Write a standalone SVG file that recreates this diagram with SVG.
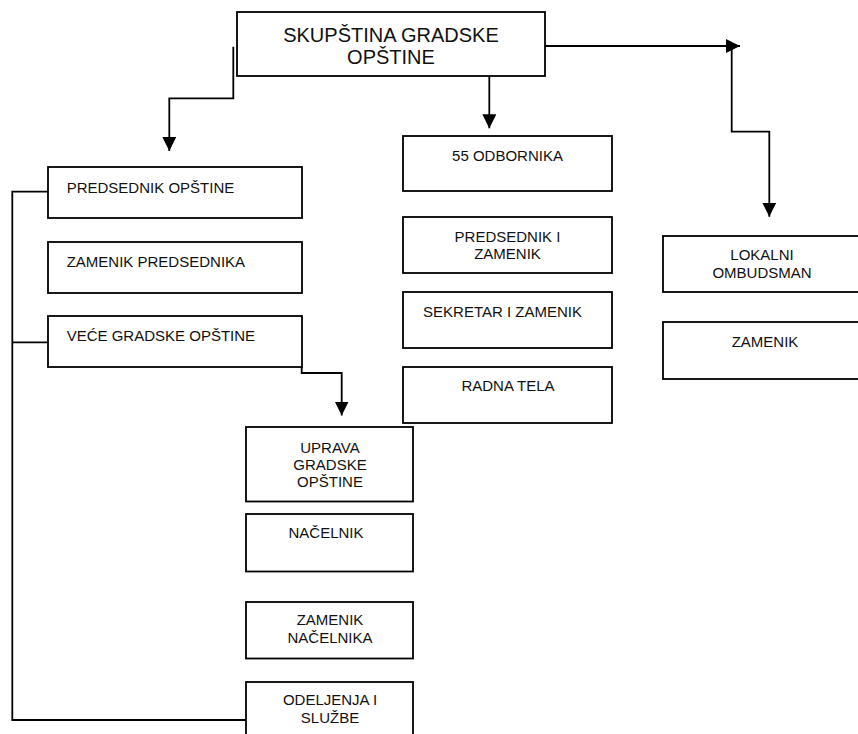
<svg xmlns="http://www.w3.org/2000/svg" width="858" height="734" viewBox="0 0 858 734">
<style>
.box{fill:#fff;stroke:#000;stroke-width:1.8}
.t{font-family:"Liberation Sans",Arial,sans-serif;font-size:15px;fill:#111}
.c{text-anchor:middle}
.big{font-size:20px}
.ln{fill:none;stroke:#000;stroke-width:1.8}
</style>
<defs>
<marker id="ah" markerUnits="userSpaceOnUse" markerWidth="14" markerHeight="14" refX="14" refY="7" orient="auto">
<path d="M0,0 L14,7 L0,14 z" fill="#000"/>
</marker>
</defs>
<rect width="858" height="734" fill="#fff"/>
<g id="connectors">
<path class="ln" d="M233.3,46.7 V98.3 H169.3 V151" marker-end="url(#ah)"/>
<path class="ln" d="M489.3,76 V128.3" marker-end="url(#ah)"/>
<path class="ln" d="M545,46 H740" marker-end="url(#ah)"/>
<path class="ln" d="M731.7,46 V131.7 H769.3 V216.7" marker-end="url(#ah)"/>
<path class="ln" d="M301.7,366.7 V373 H341.7 V415.5" marker-end="url(#ah)"/>
<path class="ln" d="M48,191.7 H12.3 V720 H246 M12.3,342.3 H48"/>
</g>
<g id="skupstina">
<rect class="box" x="237" y="12" width="308" height="64"/>
<text class="t c big" x="391" y="41.7">SKUPŠTINA GRADSKE</text>
<text class="t c big" x="391" y="63.5">OPŠTINE</text>
</g>
<g id="predsednik">
<rect class="box" x="48" y="167" width="254" height="51"/>
<text class="t" x="66.7" y="192.7">PREDSEDNIK OPŠTINE</text>
</g>
<g id="zamenik-predsednika">
<rect class="box" x="48" y="242" width="254" height="51"/>
<text class="t" x="66.7" y="267.3">ZAMENIK PREDSEDNIKA</text>
</g>
<g id="vece">
<rect class="box" x="48" y="316" width="254" height="51"/>
<text class="t" x="66.7" y="340.7">VEĆE GRADSKE OPŠTINE</text>
</g>
<g id="odbornika">
<rect class="box" x="403" y="136" width="209" height="55"/>
<text class="t c" x="507.5" y="160.7">55 ODBORNIKA</text>
</g>
<g id="predsednik-zamenik">
<rect class="box" x="403" y="217" width="209" height="56"/>
<text class="t c" x="507.5" y="241.7">PREDSEDNIK I</text>
<text class="t c" x="507.5" y="259.3">ZAMENIK</text>
</g>
<g id="sekretar">
<rect class="box" x="403" y="292" width="209" height="56"/>
<text class="t c" x="502.5" y="316.7">SEKRETAR I ZAMENIK</text>
</g>
<g id="radna-tela">
<rect class="box" x="403" y="367" width="209" height="56"/>
<text class="t c" x="508" y="391">RADNA TELA</text>
</g>
<g id="ombudsman">
<rect class="box" x="663" y="236" width="205" height="56"/>
<text class="t c" x="762" y="260">LOKALNI</text>
<text class="t c" x="762" y="278.3">OMBUDSMAN</text>
</g>
<g id="zamenik-ombudsmana">
<rect class="box" x="663" y="322" width="205" height="57"/>
<text class="t c" x="765" y="346.7">ZAMENIK</text>
</g>
<g id="uprava">
<rect class="box" x="246" y="427" width="167" height="74.5"/>
<text class="t c" x="330" y="453.3">UPRAVA</text>
<text class="t c" x="330" y="470">GRADSKE</text>
<text class="t c" x="330" y="486.5">OPŠTINE</text>
</g>
<g id="nacelnik">
<rect class="box" x="246" y="514" width="167" height="57.5"/>
<text class="t c" x="326" y="538.3">NAČELNIK</text>
</g>
<g id="zamenik-nacelnika">
<rect class="box" x="246" y="602" width="167" height="56.5"/>
<text class="t c" x="330" y="625">ZAMENIK</text>
<text class="t c" x="330" y="643.3">NAČELNIKA</text>
</g>
<g id="odeljenja">
<rect class="box" x="246" y="682" width="167" height="60"/>
<text class="t c" x="330" y="705">ODELJENJA I</text>
<text class="t c" x="330" y="723.3">SLUŽBE</text>
</g>
</svg>
